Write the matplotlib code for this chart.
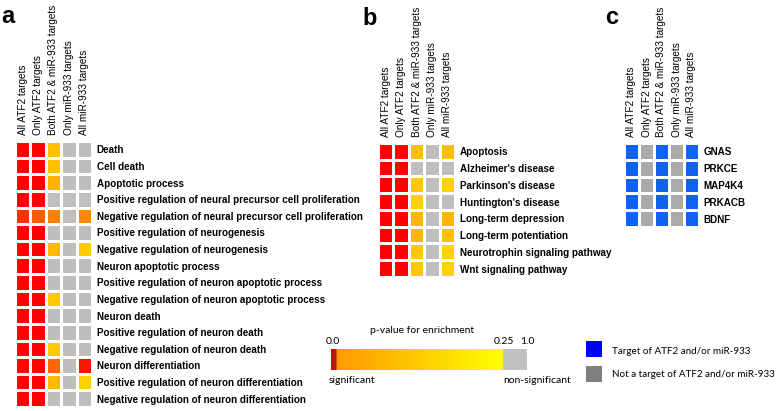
import matplotlib.pyplot as plt
import numpy as np
from matplotlib.colors import LinearSegmentedColormap, ListedColormap, Normalize
from matplotlib.patches import Rectangle

plt.rcParams['font.family'] = ['Liberation Sans', 'DejaVu Sans']

W, H = 778, 411  # figure size in pixels

columns = ['All ATF2 targets', 'Only ATF2 targets', 'Both ATF2 & miR-933 targets',
           'Only miR-933 targets', 'All miR-933 targets']

# panel a: GO terms, p-values (NS = not significant, drawn grey)
NS = 1.0
go_terms = ['Death', 'Cell death', 'Apoptotic process',
            'Positive regulation of neural precursor cell proliferation',
            'Negative regulation of neural precursor cell proliferation',
            'Positive regulation of neurogenesis', 'Negative regulation of neurogenesis',
            'Neuron apoptotic process', 'Positive regulation of neuron apoptotic process',
            'Negative regulation of neuron apoptotic process', 'Neuron death',
            'Positive regulation of neuron death', 'Negative regulation of neuron death',
            'Neuron differentiation', 'Positive regulation of neuron differentiation',
            'Negative regulation of neuron differentiation']
go_p = [
    [0.001, 0.001, 0.188, NS, NS],
    [0.001, 0.001, 0.188, NS, NS],
    [0.001, 0.001, 0.175, NS, NS],
    [0.001, 0.001, NS, NS, NS],
    [0.047, 0.088, 0.125, NS, 0.135],
    [0.001, 0.001, NS, NS, NS],
    [0.001, 0.001, 0.180, NS, 0.200],
    [0.001, 0.001, NS, NS, NS],
    [0.001, 0.001, NS, NS, NS],
    [0.001, 0.001, 0.196, NS, NS],
    [0.001, 0.001, NS, NS, NS],
    [0.001, 0.001, NS, NS, NS],
    [0.001, 0.001, 0.196, NS, NS],
    [0.005, 0.003, 0.100, NS, 0.020],
    [0.001, 0.001, 0.180, NS, 0.204],
    [0.001, 0.001, NS, NS, NS],
]

# panel b: KEGG pathways
kegg_terms = ['Apoptosis', "Alzheimer's disease", "Parkinson's disease",
              "Huntington's disease", 'Long-term depression', 'Long-term potentiation',
              'Neurotrophin signaling pathway', 'Wnt signaling pathway']
kegg_p = [
    [0.001, 0.001, 0.188, NS, 0.188],
    [0.001, 0.001, NS, NS, NS],
    [0.001, 0.001, 0.196, NS, 0.204],
    [0.001, 0.001, 0.204, NS, NS],
    [0.001, 0.001, 0.180, NS, 0.180],
    [0.001, 0.001, 0.180, NS, 0.188],
    [0.001, 0.001, 0.196, NS, 0.204],
    [0.001, 0.001, 0.196, NS, 0.204],
]

# panel c: gene membership (1 = target)
genes = ['GNAS', 'PRKCE', 'MAP4K4', 'PRKACB', 'BDNF']
gene_target = [
    [1, 0, 1, 0, 1],
    [1, 0, 1, 0, 1],
    [1, 0, 1, 0, 1],
    [1, 0, 1, 0, 1],
    [1, 0, 1, 0, 1],
]


def rect(x0, y0, x1, y1):
    return [x0 / W, 1 - y1 / H, (x1 - x0) / W, (y1 - y0) / H]


fig = plt.figure(figsize=(W / 100, H / 100), dpi=100)

pcmap = LinearSegmentedColormap.from_list('pv', ['#ff0000', '#ffff00']).with_extremes(over='#bebebe')
pnorm = Normalize(0, 0.25)


def heat(box, values, rows, cmap, norm):
    ax = fig.add_axes(rect(*box))
    ax.pcolormesh(np.array(values), cmap=cmap, norm=norm, edgecolors='white', linewidth=1)
    ax.set_xlim(0, len(columns))
    ax.set_ylim(len(rows), 0)
    ax.xaxis.tick_top()
    ax.set_xticks(np.arange(len(columns)) + 0.5, columns, rotation=90, fontsize=7.2)
    ax.yaxis.tick_right()
    ax.set_yticks(np.arange(len(rows)) + 0.5, rows, fontsize=7.1, fontweight='bold')
    ax.tick_params(axis='x', length=0, pad=4)
    ax.tick_params(axis='y', length=0, pad=3.5)
    for s in ax.spines.values():
        s.set_visible(False)
    return ax


heat((15, 141, 92, 407), go_p, go_terms, pcmap, pnorm)
heat((378, 143, 455, 277), kegg_p, kegg_terms, pcmap, pnorm)
heat((624, 143, 699, 227), gene_target, genes, ListedColormap(['#aaaaaa', '#0f62f2']), Normalize(0, 1))

# panel letters
fig.text(1 / W, 1 - 23 / H, 'a', fontsize=17, fontweight='bold', va='baseline')
fig.text(362 / W, 1 - 25 / H, 'b', fontsize=17, fontweight='bold', va='baseline')
fig.text(605 / W, 1 - 24 / H, 'c', fontsize=17, fontweight='bold', va='baseline')

# p-value colour bar
leg_cmap = LinearSegmentedColormap.from_list('leg', [
    (0, '#c81010'), (0.025, '#c81010'), (0.03, '#ff9a00'),
    (0.877, '#ffff00'), (0.88, '#c0c0c0'), (1, '#c0c0c0')], N=512)
cax = fig.add_axes(rect(331, 349, 527, 370))
cax.imshow(np.linspace(0, 1, 512)[None, :], aspect='auto', cmap=leg_cmap, extent=(0, 1, 0, 1))
cax.axis('off')

lf = ['Lato', 'DejaVu Sans']
fig.text(422 / W, 1 - 330 / H, 'p-value for enrichment', fontsize=7.5, family=lf, ha='center', va='center')
fig.text(333 / W, 1 - 341 / H, '0.0', fontsize=7.5, family=lf, ha='center', va='center')
fig.text(504 / W, 1 - 341 / H, '0.25', fontsize=7.5, family=lf, ha='center', va='center')
fig.text(527 / W, 1 - 341 / H, '1.0', fontsize=7.5, family=lf, ha='center', va='center')
fig.text(329 / W, 1 - 380 / H, 'significant', fontsize=7.5, family=lf, ha='left', va='center')
fig.text(537 / W, 1 - 380 / H, 'non-significant', fontsize=7.5, family=lf, ha='center', va='center')

# target legend
fig.patches.append(Rectangle((586 / W, 1 - 357 / H), 16 / W, 16 / H, transform=fig.transFigure,
                             facecolor='#0000ff', edgecolor='none'))
fig.patches.append(Rectangle((586 / W, 1 - 382 / H), 16 / W, 16 / H, transform=fig.transFigure,
                             facecolor='#808080', edgecolor='none'))
fig.text(612 / W, 1 - 351 / H, 'Target of ATF2 and/or miR-933', fontsize=7.1, family=lf, va='center')
fig.text(612 / W, 1 - 374 / H, 'Not a target of ATF2 and/or miR-933', fontsize=7.1, family=lf, va='center')

fig.savefig('out.png', dpi=100)
